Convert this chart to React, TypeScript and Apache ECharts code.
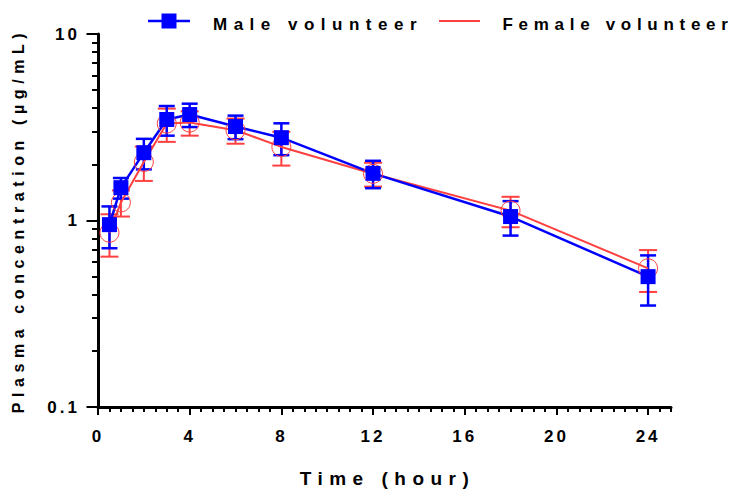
import React, { useEffect, useRef } from 'react';
import * as echarts from 'echarts';

// Sampling times (hour)
const times = [0.5, 1, 2, 3, 4, 6, 8, 12, 18, 24];
// Male volunteer: mean and SD (µg/mL)
const maleMean = [0.95, 1.5, 2.31, 3.48, 3.7, 3.19, 2.78, 1.79, 1.05, 0.5];
const maleSD = [0.24, 0.19, 0.43, 0.63, 0.53, 0.46, 0.54, 0.3, 0.22, 0.15];
// Female volunteer: mean and SD (µg/mL)
const femaleMean = [0.86, 1.25, 2.06, 3.31, 3.35, 3.05, 2.48, 1.78, 1.13, 0.554];
const femaleSD = [0.22, 0.2, 0.43, 0.67, 0.5, 0.47, 0.51, 0.26, 0.21, 0.14];

const xMajorTicks = [0, 4, 8, 12, 16, 20, 24];
const yMinorTicks = [0.2, 0.3, 0.4, 0.5, 0.6, 0.7, 0.8, 0.9, 2, 3, 4, 5, 6, 7, 8, 9];

const maleName = 'Male volunteer';
const femaleName = 'Female volunteer';
const xTitle = 'Time (hour)';
const yTitle = 'Plasma concentration (µg/mL)';

const BLUE = '#0000FF';
const RED = '#FF4040';
const FONT = '"Liberation Sans", Arial, Helvetica, sans-serif';
const SPACING: Record<string, number> = {
  [maleName]: 6.5,
  [femaleName]: 5.7,
  [xTitle]: 6.5,
  [yTitle]: 5.6,
};

function errorBars(name: string, mean: number[], sd: number[], color: string, width: number, capHalf: number) {
  return {
    type: 'custom',
    name,
    xAxisIndex: 0,
    yAxisIndex: 0,
    silent: true,
    data: times.map((t, i) => [t, mean[i] - sd[i], mean[i] + sd[i]]),
    encode: { x: 0, y: [1, 2] },
    renderItem: (params: any, api: any) => {
      const x = api.value(0);
      const lo = api.coord([x, api.value(1)]);
      const hi = api.coord([x, api.value(2)]);
      const style = { stroke: color, lineWidth: width };
      return {
        type: 'group',
        children: [
          { type: 'line', shape: { x1: lo[0], y1: lo[1], x2: hi[0], y2: hi[1] }, style },
          { type: 'line', shape: { x1: lo[0] - capHalf, y1: lo[1], x2: lo[0] + capHalf, y2: lo[1] }, style },
          { type: 'line', shape: { x1: hi[0] - capHalf, y1: hi[1], x2: hi[0] + capHalf, y2: hi[1] }, style },
        ],
      };
    },
  };
}

export default function App() {
  const ref = useRef<HTMLDivElement>(null);

  useEffect(() => {
    document.body.style.margin = '0';
    const el = ref.current!;
    const chart = echarts.init(el, undefined, { renderer: 'svg' });

    const option: any = {
      animation: false,
      backgroundColor: '#fff',
      grid: { left: 98, top: 34, width: 573, height: 374 },
      xAxis: [
        {
          type: 'value',
          min: 0,
          max: 25,
          interval: 4,
          position: 'bottom',
          name: xTitle,
          nameLocation: 'middle',
          nameGap: 62,
          nameTextStyle: { fontFamily: FONT, fontWeight: 'bold', fontSize: 19, color: '#000', padding: [0, 0, 0, 6] },
          axisLine: { show: true, lineStyle: { color: '#000', width: 3 } },
          axisTick: { show: true, customValues: xMajorTicks, length: 8, lineStyle: { color: '#000', width: 2 } },
          axisLabel: {
            show: true,
            customValues: xMajorTicks,
            margin: 21,
            fontFamily: FONT,
            fontWeight: 'bold',
            fontSize: 17,
            color: '#000',
          },
          splitLine: { show: false },
        },
        {
          type: 'value',
          min: 0,
          max: 25,
          interval: 0.5,
          position: 'bottom',
          offset: 0,
          axisLine: { show: false },
          axisTick: { show: true, length: 5, lineStyle: { color: '#000', width: 2 } },
          axisLabel: { show: false },
          splitLine: { show: false },
        },
      ],
      yAxis: [
        {
          type: 'log',
          logBase: 10,
          min: 0.1,
          max: 10,
          position: 'left',
          name: yTitle,
          nameLocation: 'middle',
          nameGap: 72,
          nameTextStyle: { fontFamily: FONT, fontWeight: 'bold', fontSize: 16, color: '#000' },
          axisLine: { show: true, lineStyle: { color: '#000', width: 3 } },
          axisTick: { show: true, length: 11.5, lineStyle: { color: '#000', width: 2 } },
          axisLabel: { show: true, margin: 18, fontFamily: FONT, fontWeight: 'bold', fontSize: 17, color: '#000' },
          splitLine: { show: false },
        },
        {
          type: 'log',
          logBase: 10,
          min: 0.1,
          max: 10,
          position: 'left',
          offset: 0,
          axisLine: { show: false },
          axisTick: { show: true, customValues: yMinorTicks, length: 6, lineStyle: { color: '#000', width: 2 } },
          axisLabel: { show: false },
          splitLine: { show: false },
        },
      ],
      graphic: [
        { type: 'line', shape: { x1: 148, y1: 21, x2: 190, y2: 21 }, style: { stroke: BLUE, lineWidth: 2.5 } },
        { type: 'rect', shape: { x: 161.5, y: 13.5, width: 15, height: 15 }, style: { fill: BLUE } },
        {
          type: 'text',
          x: 213,
          y: 24.5,
          style: { text: maleName, fill: '#000', font: `bold 17px ${FONT}`, textAlign: 'left', textVerticalAlign: 'middle' },
        },
        { type: 'line', shape: { x1: 439, y1: 21, x2: 480, y2: 21 }, style: { stroke: RED, lineWidth: 2 } },
        {
          type: 'text',
          x: 502.5,
          y: 24.5,
          style: { text: femaleName, fill: '#000', font: `bold 17px ${FONT}`, textAlign: 'left', textVerticalAlign: 'middle' },
        },
      ],
      series: [
        errorBars(femaleName + ' SD', femaleMean, femaleSD, RED, 2, 9),
        {
          type: 'line',
          name: femaleName,
          data: times.map((t, i) => [t, femaleMean[i]]),
          symbol: 'circle',
          symbolSize: 19,
          showAllSymbol: true,
          lineStyle: { color: RED, width: 2 },
          itemStyle: { color: 'rgba(255,255,255,0)', borderColor: RED, borderWidth: 1 },
          silent: true,
        },
        errorBars(maleName + ' SD', maleMean, maleSD, BLUE, 2.5, 8),
        {
          type: 'line',
          name: maleName,
          data: times.map((t, i) => [t, maleMean[i]]),
          symbol: 'rect',
          symbolSize: 15,
          showAllSymbol: true,
          lineStyle: { color: BLUE, width: 2.5 },
          itemStyle: { color: BLUE, borderWidth: 0 },
          silent: true,
        },
      ],
    };

    chart.setOption(option);

    const applySpacing = () => {
      el.querySelectorAll('text').forEach((t) => {
        const s = (t.textContent || '').trim();
        const sp = SPACING[s] !== undefined ? SPACING[s] : 3;
        t.setAttribute('letter-spacing', String(sp));
      });
    };
    applySpacing();
    chart.on('finished', applySpacing);
    const timer = window.setTimeout(applySpacing, 50);

    return () => {
      window.clearTimeout(timer);
      chart.dispose();
    };
  }, []);

  return (
    <div
      ref={ref}
      style={{ position: 'absolute', left: 0, top: 0, width: 739, height: 493, background: '#fff' }}
    />
  );
}
